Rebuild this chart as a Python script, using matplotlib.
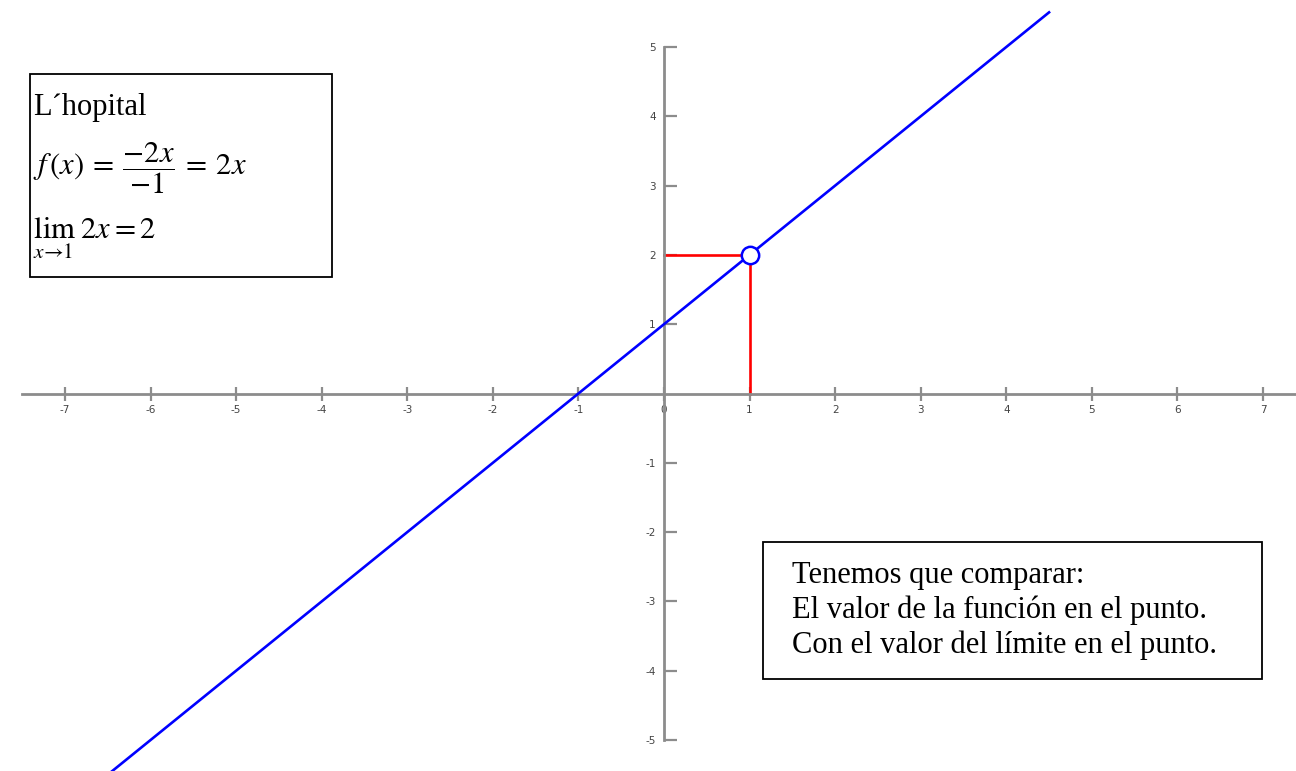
import matplotlib.pyplot as plt
from matplotlib.patches import Rectangle
from matplotlib.transforms import Affine2D

# data
line_x = [-7.0, 4.5]
line_y = [-6.0, 5.5]
point_x = 1
point_y = 2
x_ticks = [-7, -6, -5, -4, -3, -2, -1, 0, 1, 2, 3, 4, 5, 6, 7]
y_ticks = [-5, -4, -3, -2, -1, 1, 2, 3, 4, 5]
x_axis_span = (-7.5, 7.4)
y_axis_span = (-5, 5)

box1_lines = ["L\u00b4hopital",
              r"$f\,(x)\:=\:\dfrac{-2x}{-1}\:=\:2x$",
              r"$\lim_{x\to 1}\;2x\:=\:2$"]
box2_lines = ["Tenemos que comparar:",
              "El valor de la funci\u00f3n en el punto.",
              "Con el valor del l\u00edmite en el punto."]

W, H = 1296, 771
plt.rcParams['font.family'] = ['Liberation Serif', 'DejaVu Serif']
plt.rcParams['mathtext.fontset'] = 'stix'

fig = plt.figure(figsize=(W / 100, H / 100), dpi=100)
ax = fig.add_axes([0, 0, 1, 1])

# pixel scale of the original drawing
ox, oy = 664, 393.5
sx, sy = 85.57, 69.3
ax.set_xlim(-ox / sx, (W - ox) / sx)
ax.set_ylim(-(H - oy) / sy, oy / sy)
ax.set_facecolor('white')

axis_gray = '#8c8c8c'
for side in ['top', 'right']:
    ax.spines[side].set_visible(False)
ax.spines['left'].set_position('zero')
ax.spines['bottom'].set_position('zero')
ax.spines['left'].set_bounds(*y_axis_span)
ax.spines['bottom'].set_bounds(*x_axis_span)
for side in ['left', 'bottom']:
    ax.spines[side].set_color(axis_gray)
    ax.spines[side].set_linewidth(2)

ax.set_xticks(x_ticks)
ax.set_xticklabels([str(t) for t in x_ticks])
ax.set_yticks(y_ticks)
ax.set_yticklabels([str(t) for t in y_ticks])
ax.tick_params(axis='x', direction='inout', length=10, width=1.6, color=axis_gray,
               labelsize=7.5, labelcolor='#444444', pad=3)
ax.tick_params(axis='y', direction='in', length=9, width=1.6, color=axis_gray,
               labelsize=7.5, labelcolor='#444444', pad=6)
for lab in ax.get_xticklabels() + ax.get_yticklabels():
    lab.set_family('DejaVu Sans')

# function line
ax.plot(line_x, line_y, color='#0000ff', lw=1.9, zorder=3, clip_on=True)

# red guide lines to the point
ax.plot([0, point_x], [point_y, point_y], color='#ff0000', lw=1.9, zorder=2)
ax.plot([point_x, point_x], [0, point_y], color='#ff0000', lw=1.9, zorder=2)

# open circle
ax.plot([point_x], [point_y], 'o', ms=12.5, mfc='white', mec='#0000ff', mew=1.8, zorder=4)

# pixel transform for the text boxes
pix = Affine2D().scale(1 / W, -1 / H).translate(0, 1) + fig.transFigure

ax.add_patch(Rectangle((30, 74), 302, 203, transform=pix, fill=False,
                       ec='black', lw=1.3, zorder=5, clip_on=False))
ax.add_patch(Rectangle((763, 542), 499, 137, transform=pix, fill=False,
                       ec='black', lw=1.3, zorder=5, clip_on=False))

box1_pos = [(33, 115), (33, 175), (33, 239)]
for txt, (px, py) in zip(box1_lines, box1_pos):
    ax.text(px, py, txt, transform=pix, fontsize=22, va='baseline', ha='left', zorder=6)

box2_pos = [(792, 583), (792, 618), (792, 653)]
for txt, (px, py) in zip(box2_lines, box2_pos):
    ax.text(px, py, txt, transform=pix, fontsize=22, va='baseline', ha='left', zorder=6)

fig.savefig('out.png', dpi=100, facecolor='white')
